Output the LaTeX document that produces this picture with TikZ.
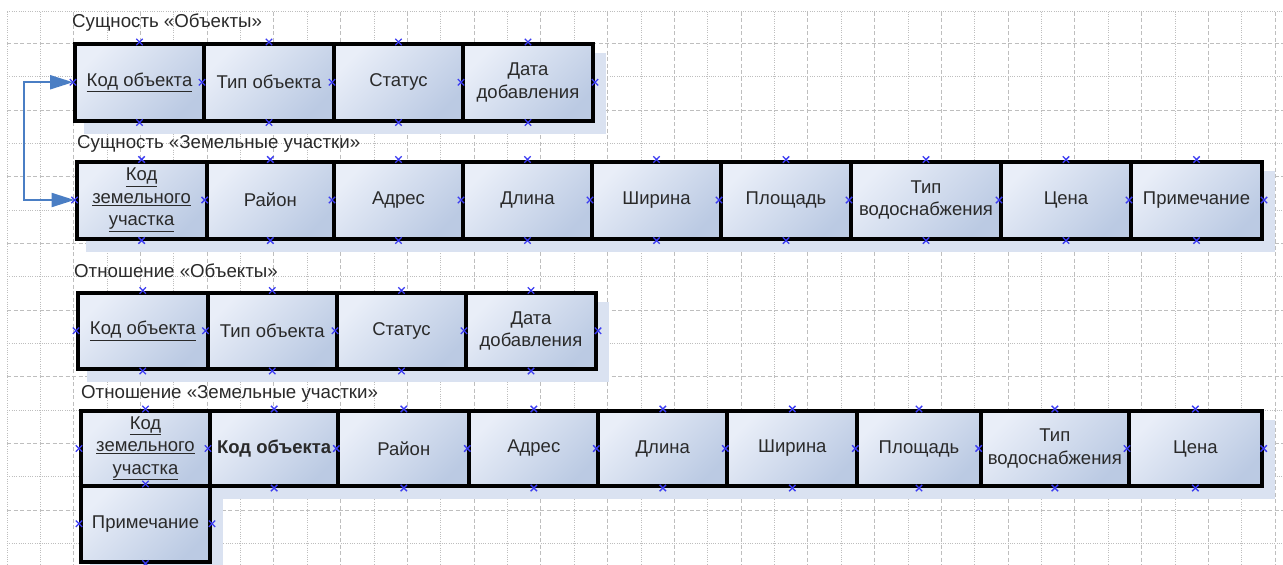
\documentclass[tikz,border=0pt]{standalone}
\usepackage{fontspec}
\setmainfont{Liberation Sans}
\usetikzlibrary{arrows.meta}
\definecolor{gridc}{HTML}{BEBEBE}
\definecolor{shad}{HTML}{DAE2F1}
\definecolor{fillA}{HTML}{E9EEF8}
\definecolor{fillM}{HTML}{D3DDEE}
\definecolor{fillB}{HTML}{BBCAE3}
\definecolor{arrc}{HTML}{4A7EC4}
\definecolor{markc}{HTML}{3B3BF2}
\definecolor{txt}{HTML}{2A2A2A}
\tikzset{
  gdash/.style={draw=gridc, line width=1pt, dash pattern=on 4pt off 2.5pt},
  gdot/.style={draw=gridc, line width=0.8pt, dash pattern=on 1pt off 1.3pt},
  field/.style={draw=black, line width=4pt, top color=fillA, middle color=fillM, bottom color=fillB,
    shading angle=45, inner sep=0pt, align=center, text=txt,
    font=\fontsize{18.5}{22.5}\selectfont},
  title/.style={anchor=west, inner sep=0pt, text=txt, font=\fontsize{18.7}{20}\selectfont},
  cpx/.style={draw=markc, line width=1.4pt},
  xmark/.pic={\draw[cpx] (-3.2,-3.2) -- (3.2,3.2) (-3.2,3.2) -- (3.2,-3.2);},
  conn/.style={draw=arrc, line width=2.2pt,
    {Triangle[length=23pt,width=14pt]}-{Triangle[length=23pt,width=14pt]}},
}
% name, x1, y1, x2, y2, text
\newcommand\fld[6]{%
  \fill[shad] (#2+9,#3+9) rectangle (#4+13,#5+13);
  \node[field, minimum width={#4-#2}, minimum height={#5-#3}] (#1) at ({(#2+#4)/2},{(#3+#5)/2}) {#6};
  \pic at (#1.north) {xmark};
  \pic at (#1.south) {xmark};
  \pic at (#1.west) {xmark};
  \pic at (#1.east) {xmark};
}
\begin{document}
\begin{tikzpicture}[x=1pt,y=-1pt]
\useasboundingbox (0,0) rectangle (1283,565);
\fill[white] (0,0) rectangle (1283,565);
% grid
\foreach \k in {2,4,...,38} \draw[gdash] ({7+33.37*\k},11.7) -- ({7+33.37*\k},565);
\foreach \k in {1,3,...,37} \draw[gdot] ({7+33.37*\k},11.7) -- ({7+33.37*\k},565);
\draw[gdot] (7,11.7) -- (7,565);
\draw[gdot] (7,11.7) -- (1283,11.7);
\foreach \k in {0,2,...,14} \draw[gdash] (7,{43.3+33.35*\k}) -- (1283,{43.3+33.35*\k});
\foreach \k in {1,3,...,15} \draw[gdot] (7,{43.3+33.35*\k}) -- (1283,{43.3+33.35*\k});

% titles
\node[title] (t1) at (72,23) {Сущность «Объекты»};
\node[title] (t2) at (77,143.5) {Сущность «Земельные участки»};
\node[title] (t3) at (74,271) {Отношение «Объекты»};
\node[title] (t4) at (81,394) {Отношение «Земельные участки»};

% row 1
\fld{o1}{75}{44}{204}{120.5}{\underline{Код объекта}}
\fld{o2}{204}{44}{334}{120.5}{Тип объекта}
\fld{o3}{334}{44}{463}{120.5}{Статус}
\fld{o4}{463}{44}{593}{120.5}{Дата\\добавления}

% row 2
\fld{z1}{76.5}{161.5}{206.7}{238.5}{\underline{Код}\\\underline{земельного}\\\underline{участка}}
\fld{z2}{206.7}{161.5}{334}{238.5}{Район}
\fld{z3}{334}{161.5}{463}{238.5}{Адрес}
\fld{z4}{463}{161.5}{592}{238.5}{Длина}
\fld{z5}{592}{161.5}{721}{238.5}{Ширина}
\fld{z6}{721}{161.5}{851}{238.5}{Площадь}
\fld{z7}{851}{161.5}{1001}{238.5}{Тип\\водоснабжения}
\fld{z8}{1001}{161.5}{1131}{238.5}{Цена}
\fld{z9}{1131}{161.5}{1262}{238.5}{Примечание}

% row 3
\fld{r1}{78}{292.5}{207.5}{369}{\underline{Код объекта}}
\fld{r2}{207.5}{292.5}{337}{369}{Тип объекта}
\fld{r3}{337}{292.5}{466}{369}{Статус}
\fld{r4}{466}{292.5}{596}{369}{Дата\\добавления}

% row 4
\fld{s1}{81}{411}{210}{486}{\underline{Код}\\\underline{земельного}\\\underline{участка}}
\fld{s2}{210}{411}{338.3}{486}{\textbf{Код объекта}}
\fld{s3}{338.3}{411}{469.3}{486}{Район}
\fld{s4}{469.3}{411}{598.3}{486}{Адрес}
\fld{s5}{598.3}{411}{727.3}{486}{Длина}
\fld{s6}{727.3}{411}{857.3}{486}{Ширина}
\fld{s7}{857.3}{411}{980.7}{486}{Площадь}
\fld{s8}{980.7}{411}{1129}{486}{Тип\\водоснабжения}
\fld{s9}{1129}{411}{1261.7}{486}{Цена}
\fld{s10}{81}{486}{210}{561.5}{Примечание}

% connector
\coordinate (lane) at (24,0);
\draw[conn] (o1.west) -- (o1.west -| lane) |- (z1.west);
\end{tikzpicture}
\end{document}
